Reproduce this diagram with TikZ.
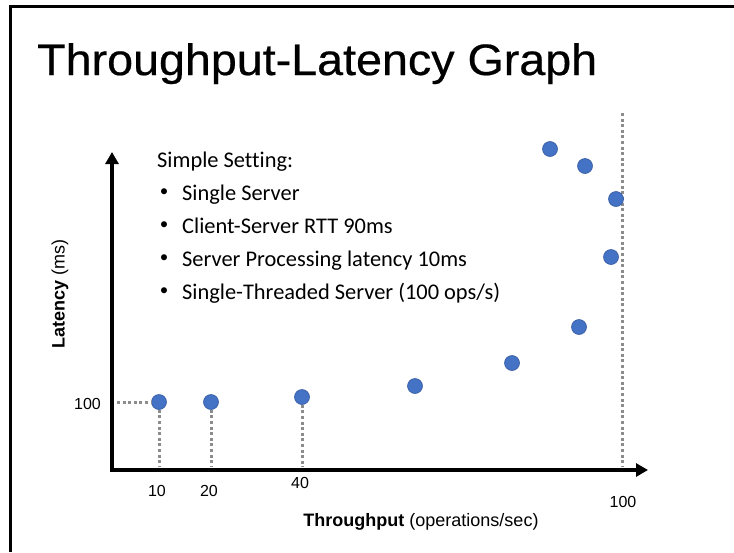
\documentclass[tikz,border=0pt]{standalone}
\usepackage{fontspec}
\setmainfont{Liberation Sans}
\newfontfamily\bodyfont[Ligatures=CommonOff]{Carlito}
\newfontfamily\titlefont[FakeBold=0.5]{Liberation Sans}
\usetikzlibrary{arrows.meta}
\definecolor{dotblue}{RGB}{68,114,196}
\definecolor{dotedge}{RGB}{52,90,160}
\definecolor{guide}{RGB}{140,140,140}
\tikzset{
  sample/.style={circle, fill=dotblue, draw=dotedge, line width=0.6pt, minimum size=15pt, inner sep=0pt},
  guideline/.style={guide, line width=3pt, dash pattern=on 3pt off 2.6pt},
  axis/.style={line width=4pt, line join=miter},
  tick/.style={font=\fontsize{16}{19}\selectfont},
  axlabel/.style={font=\fontsize{18}{21}\selectfont},
  setting/.style={anchor=base west, inner sep=0pt, font=\bodyfont\fontsize{22.4}{26}\selectfont},
  bulletmark/.style={inner sep=0pt, font=\bodyfont\fontsize{17}{20}\selectfont},
}
\begin{document}
\begin{tikzpicture}[x=1pt, y=-1pt]
\useasboundingbox (0,0) rectangle (734,552);
% slide frame
\draw[line width=3pt] (734,6.5) -- (10.5,6.5) -- (10.5,552);
% title
\node[anchor=base west, inner sep=0pt, font=\titlefont\fontsize{44}{50}\selectfont] (title) at (37,75)
  {\scalebox{1.06}[1]{Throughput-Latency Graph}};

% axes
\coordinate (origin) at (112,470);
\coordinate (ytop) at (112,152);
\coordinate (xend) at (648,470);
\draw[axis, {Triangle[length=12pt,width=13pt]}-{Triangle[length=12pt,width=13pt]}] (ytop) -- (origin) -- (xend);

% capacity limit at 100 ops/s
\coordinate (capTop) at (622,113);
\coordinate (capBot) at (622,467);
\draw[guideline] (capTop) -- (capBot);

% measured points
\node[sample] (p1) at (159,402) {};
\node[sample] (p2) at (211,402) {};
\node[sample] (p3) at (302,397) {};
\node[sample] (p4) at (415,386) {};
\node[sample] (p5) at (512,363) {};
\node[sample] (p6) at (579,327) {};
\node[sample] (p7) at (611,257) {};
\node[sample] (p8) at (616,199) {};
\node[sample] (p9) at (585,166) {};
\node[sample] (p10) at (550,149) {};

% guide lines to the axes
\coordinate (y100) at (117,402);
\coordinate (x10) at (159,467);
\coordinate (x20) at (211,467);
\coordinate (x40) at (302,467);
\draw[guideline] (y100) -- (p1.west);
\draw[guideline] (p1.south) -- (x10);
\draw[guideline] (p2.south) -- (x20);
\draw[guideline] (p3.south) -- (x40);

% tick labels
\node[tick, anchor=east, inner sep=0pt] (t100y) at (101,404) {100};
\node[tick] (t10) at (157,491) {10};
\node[tick] (t20) at (209,491) {20};
\node[tick] (t40) at (300,483) {40};
\node[tick] (t100x) at (623,502) {100};

% axis labels
\node[axlabel] (xlabel) at (421,522) {\textbf{Throughput} (operations/sec)};
\node[axlabel, rotate=90] (ylabel) at (60,294) {\textbf{Latency} (ms)};

% setting description
\node[setting] (s0) at (157,167) {Simple Setting:};
\node[bulletmark] (b1) at (164,193) {•};
\node[setting] (s1) at (182,200) {Single Server};
\node[bulletmark] (b2) at (164,226) {•};
\node[setting] (s2) at (182,233) {Client-Server RTT 90ms};
\node[bulletmark] (b3) at (164,259) {•};
\node[setting] (s3) at (182,266) {Server Processing latency 10ms};
\node[bulletmark] (b4) at (164,292) {•};
\node[setting] (s4) at (182,299) {Single-Threaded Server (100 ops/s)};
\end{tikzpicture}
\end{document}
